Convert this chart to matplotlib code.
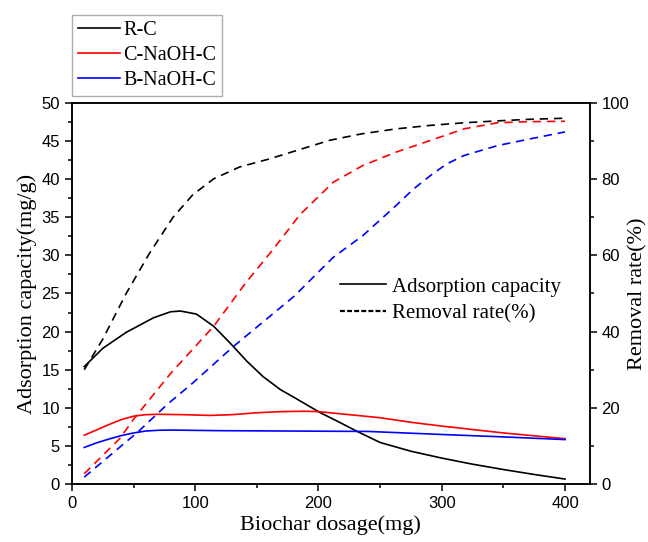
import matplotlib
matplotlib.use('Agg')
import matplotlib.pyplot as plt
from matplotlib.lines import Line2D
from matplotlib.ticker import MultipleLocator

# dosage (mg) and adsorption capacity (mg/g)
x_rc = [10, 25, 44, 66, 80, 88, 101, 115, 128, 142, 155, 169, 183, 201, 217, 232, 250, 275, 300, 325, 350, 375, 400]
cap_rc = [15.4, 17.8, 19.9, 21.8, 22.6, 22.7, 22.3, 20.7, 18.55, 16.1, 14.1, 12.4, 11.1, 9.4, 8.1, 6.85, 5.45, 4.3, 3.4, 2.6, 1.9, 1.25, 0.65]

x_cn = [10, 20, 30, 40, 50, 60, 70, 90, 112, 130, 150, 170, 188, 200, 225, 250, 275, 300, 350, 400]
cap_cn = [6.4, 7.1, 7.8, 8.45, 8.9, 9.1, 9.15, 9.1, 9.0, 9.1, 9.35, 9.5, 9.55, 9.5, 9.1, 8.7, 8.1, 7.6, 6.7, 5.95]

x_bn = [10, 20, 30, 40, 50, 60, 70, 80, 120, 200, 240, 270, 300, 350, 400]
cap_bn = [4.8, 5.4, 5.9, 6.35, 6.7, 6.95, 7.05, 7.08, 7.0, 6.93, 6.9, 6.7, 6.5, 6.18, 5.83]

# removal rate (%)
xr_rc = [10, 25, 44, 63, 82, 98, 115, 136, 160, 180, 209, 235, 263, 290, 318, 345, 370, 400]
rem_rc = [30, 38, 50, 60.6, 70, 75.9, 80.1, 83.2, 85.3, 87.3, 90.2, 91.9, 93.2, 94.1, 94.8, 95.3, 95.7, 96]

xr_cn = [10, 39, 50, 80, 115, 141, 163, 185, 212, 236, 263, 291, 318, 345, 370, 400]
rem_cn = [2.7, 12, 17, 29, 41.4, 52.8, 61.5, 70.7, 79.2, 83.6, 87.1, 90.2, 93.2, 94.8, 95.1, 95.2]

xr_bn = [10, 54, 77, 98, 131, 180, 212, 236, 263, 277, 291, 304, 318, 345, 372, 400]
rem_bn = [1.8, 13.8, 20.8, 26.5, 36.1, 49.2, 59.5, 65.2, 73.1, 77.4, 81, 84, 86.2, 88.8, 90.6, 92.4]

samples = ['R-C', 'C-NaOH-C', 'B-NaOH-C']
colors = ['black', 'red', 'blue']

serif = 'Liberation Serif'
sans = 'Liberation Sans'
dash = (5, 3.5)

fig = plt.figure(figsize=(6.48, 5.42), dpi=100)
ax = fig.add_axes([0.111, 0.107, 0.799, 0.703])
ax2 = ax.twinx()

caps = [(x_rc, cap_rc), (x_cn, cap_cn), (x_bn, cap_bn)]
rems = [(xr_rc, rem_rc), (xr_cn, rem_cn), (xr_bn, rem_bn)]
for (xc, yc), (xr, yr), c in zip(caps, rems, colors):
    ax.plot(xc, yc, color=c, lw=1.2, solid_joinstyle='round')
    ax2.plot(xr, yr, color=c, lw=1.2, dashes=dash)

ax.set_xlim(0, 420)
ax.set_ylim(0, 50)
ax2.set_ylim(0, 100)

ax.xaxis.set_major_locator(MultipleLocator(100))
ax.xaxis.set_minor_locator(MultipleLocator(50))
ax.yaxis.set_major_locator(MultipleLocator(5))
ax.yaxis.set_minor_locator(MultipleLocator(2.5))
ax2.yaxis.set_major_locator(MultipleLocator(20))
ax2.yaxis.set_minor_locator(MultipleLocator(10))

for a in (ax, ax2):
    a.tick_params(which='major', direction='out', length=5, width=1.1, labelsize=12)
    a.tick_params(which='minor', direction='out', length=3, width=1.1)
    for s in a.spines.values():
        s.set_linewidth(1.1)
    for lab in a.get_xticklabels() + a.get_yticklabels():
        lab.set_fontfamily(sans)

ax.set_xlabel('Biochar dosage(mg)', fontfamily=serif, fontsize=16, labelpad=3)
ax.set_ylabel('Adsorption capacity(mg/g)', fontfamily=serif, fontsize=16, labelpad=3)
ax2.set_ylabel('Removal rate(%)', fontfamily=serif, fontsize=16, labelpad=-1)

# sample legend above the axes
h1 = [Line2D([], [], color=c, lw=1.2) for c in colors]
leg1 = fig.legend(h1, samples, loc='upper left', bbox_to_anchor=(0.111, 0.973),
                  prop={'family': serif, 'size': 14.5}, frameon=True, fancybox=False,
                  edgecolor='#999999', borderpad=0.3, borderaxespad=0,
                  handlelength=2.1, handletextpad=0.15, labelspacing=0.3)
leg1.get_frame().set_linewidth(1.0)

# line style legend inside the axes
h2 = [Line2D([], [], color='black', lw=1.2),
      Line2D([], [], color='black', lw=1.6, dashes=(2.2, 1.0))]
ax2.legend(h2, ['Adsorption capacity', 'Removal rate(%)'], loc='upper left',
           bbox_to_anchor=(0.482, 0.592), prop={'family': serif, 'size': 15},
           frameon=False, handlelength=2.2, handletextpad=0.3, labelspacing=0.35)

fig.savefig('out.png', dpi=100)
